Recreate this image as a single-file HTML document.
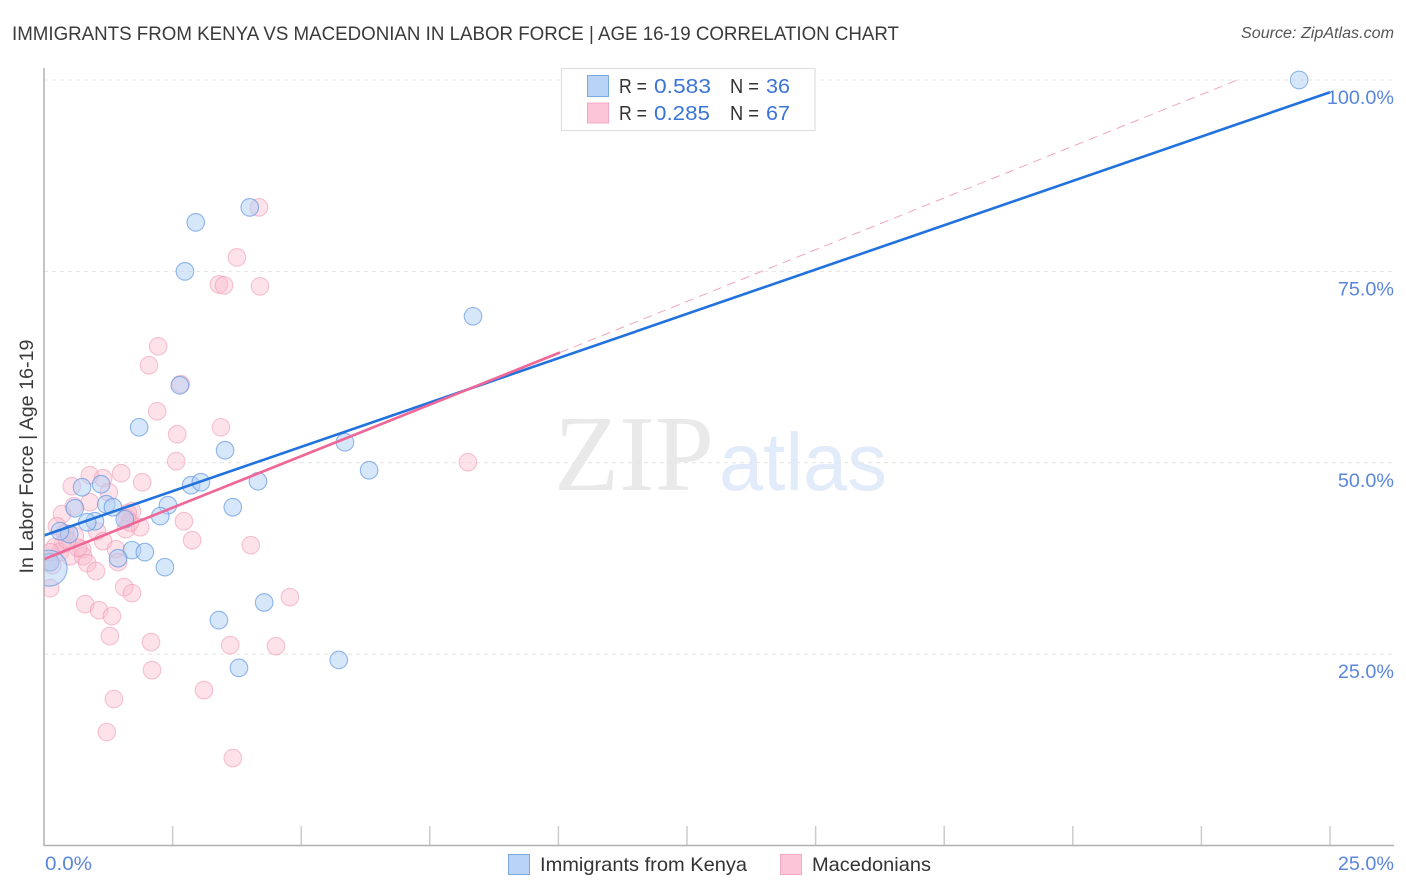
<!DOCTYPE html>
<html lang="en">
<head>
<meta charset="utf-8">
<title>Immigrants from Kenya vs Macedonian in Labor Force | Age 16-19 Correlation Chart</title>
<style>
html,body{margin:0;padding:0;background:#fff;width:1406px;height:892px;overflow:hidden}
svg{display:block;font-family:"Liberation Sans",sans-serif}
</style>
</head>
<body>
<svg id="chart" width="1406" height="892" viewBox="0 0 1406 892" xmlns="http://www.w3.org/2000/svg">
  <defs>
    <clipPath id="plot-clip"><rect x="44" y="60" width="1350" height="786"/></clipPath>
  </defs>
  <text x="12" y="40" font-size="19.5" fill="#3a3a3a" textLength="887" lengthAdjust="spacingAndGlyphs">IMMIGRANTS FROM KENYA VS MACEDONIAN IN LABOR FORCE | AGE 16-19 CORRELATION CHART</text>
  <text x="1394" y="38" font-size="15.5" font-style="italic" fill="#555" text-anchor="end" textLength="153" lengthAdjust="spacingAndGlyphs">Source: ZipAtlas.com</text>

  <g>
    <text x="554" y="490" font-family="'Liberation Serif',serif" font-size="108" fill="#e9e9e9" textLength="160" lengthAdjust="spacingAndGlyphs">ZIP</text>
    <text x="719" y="490" font-size="82" fill="#e2ebf9" textLength="168" lengthAdjust="spacingAndGlyphs">atlas</text>
  </g>

  <g id="grid"></g>
  <g id="xticks"></g>
  <g id="pink-points" clip-path="url(#plot-clip)"></g>
  <g id="blue-points" clip-path="url(#plot-clip)"></g>
  <g id="trends"></g>

  <line x1="44" y1="68" x2="44" y2="846" stroke="#b0b0b0" stroke-width="1.5"/>
  <line x1="44" y1="845.5" x2="1394" y2="845.5" stroke="#b0b0b0" stroke-width="1.5"/>

  <g id="ylabels"></g>
  <g id="xlabels"></g>

  <text transform="translate(33,456.5) rotate(-90)" font-size="19.5" fill="#3a3a3a" text-anchor="middle" textLength="234" lengthAdjust="spacingAndGlyphs">In Labor Force | Age 16-19</text>

  <g>
    <rect x="561.5" y="68.5" width="253.5" height="62" fill="#fff" stroke="#e0e0e0" stroke-width="1.2"/>
    <rect x="587.5" y="75.5" width="21" height="21" fill="#b8d3f6" stroke="#7ba8df" stroke-width="1"/>
    <rect x="587.5" y="103" width="21" height="20" fill="#fcc6d8" stroke="#f4a9c1" stroke-width="1"/>
    <text x="619" y="93" font-size="20" fill="#333" textLength="28" lengthAdjust="spacingAndGlyphs">R =</text>
    <text x="654" y="93" font-size="20.5" fill="#3a75d6" textLength="57" lengthAdjust="spacingAndGlyphs">0.583</text>
    <text x="730" y="93" font-size="20" fill="#333" textLength="29" lengthAdjust="spacingAndGlyphs">N =</text>
    <text x="766" y="93" font-size="20.5" fill="#3a75d6" textLength="24" lengthAdjust="spacingAndGlyphs">36</text>
    <text x="619" y="120" font-size="20" fill="#333" textLength="28" lengthAdjust="spacingAndGlyphs">R =</text>
    <text x="654" y="120" font-size="20.5" fill="#3a75d6" textLength="56" lengthAdjust="spacingAndGlyphs">0.285</text>
    <text x="730" y="120" font-size="20" fill="#333" textLength="29" lengthAdjust="spacingAndGlyphs">N =</text>
    <text x="766" y="120" font-size="20.5" fill="#3a75d6" textLength="24" lengthAdjust="spacingAndGlyphs">67</text>
  </g>

  <g>
    <rect x="508.5" y="854.5" width="21" height="20" fill="#b8d3f6" stroke="#7ba8df" stroke-width="1"/>
    <text x="540" y="871" font-size="19.5" fill="#333" textLength="207" lengthAdjust="spacingAndGlyphs">Immigrants from Kenya</text>
    <rect x="780.5" y="854.5" width="21" height="20" fill="#fcc6d8" stroke="#f4a9c1" stroke-width="1"/>
    <text x="812" y="871" font-size="19.5" fill="#333" textLength="119" lengthAdjust="spacingAndGlyphs">Macedonians</text>
  </g>
</svg>
<script>
const yGridValues = [100, 75, 50, 25];
const yTickLabels = ['100.0%', '75.0%', '50.0%', '25.0%'];
const xTickValues = [2.5, 5, 7.5, 10, 12.5, 15, 17.5, 20, 22.5, 25];
const xEndLabels = ['0.0%', '25.0%'];

const kenyaX = [24.40,4.00,2.95,2.74,8.34,2.64,1.85,3.52,5.85,6.32,2.86,3.05,4.16,0.74,1.11,1.21,1.34,0.60,2.41,3.67,2.26,1.57,0.99,0.84,0.49,0.31,1.71,1.96,1.44,2.35,0.12,0.10,4.28,3.40,5.73,3.79];
const kenyaY = [100,83.36,81.40,75.0,69.13,60.12,54.63,51.63,52.68,49.02,47.06,47.45,47.58,46.80,47.19,44.58,44.19,44.06,44.45,44.19,43.02,42.62,42.36,42.23,40.67,41.06,38.58,38.32,37.53,36.36,37.01,36.23,31.75,29.44,24.24,23.20];
const kenyaBigIndex = 31;

const macedonianX = [4.18,3.75,3.40,3.50,4.20,2.22,2.04,2.66,2.20,3.44,2.59,2.57,8.24,1.50,0.89,1.15,1.91,0.54,1.26,0.89,0.58,0.35,1.71,1.63,1.61,2.72,0.25,1.87,1.59,1.03,0.60,0.41,2.88,4.02,1.15,0.37,0.74,1.40,0.21,0.31,0.51,0.76,0.84,1.44,1.01,0.08,0.16,0.12,1.56,1.71,0.12,0.80,1.07,1.32,4.78,1.28,2.08,3.62,4.51,2.10,3.11,1.36,1.22,3.67,0.66,0.45,1.67];
const macedonianY = [83.36,76.83,73.30,73.17,73.04,65.21,62.73,60.25,56.72,54.63,53.72,50.20,50.07,48.63,48.37,47.98,47.45,46.93,46.15,44.84,44.32,43.28,43.67,43.41,42.75,42.36,41.71,41.58,41.32,41.06,40.40,40.80,39.88,39.23,39.75,39.36,38.71,38.71,38.97,38.32,37.79,37.79,36.88,37.01,35.84,37.01,36.62,38.32,33.75,32.96,33.62,31.53,30.74,29.96,32.44,27.35,26.57,26.17,26.04,22.91,20.30,19.13,14.82,11.42,38.9,39.9,42.2];

const kenyaTrendX = [0, 25];
const kenyaTrendY = [40.5, 98.4];
const macedonianTrendX = [0, 10.03];
const macedonianTrendY = [37.4, 64.4];
const macedonianDashX = [10.03, 23.2];
const macedonianDashY = [64.4, 100];

const NS = 'http://www.w3.org/2000/svg';
function xScale(v){ return 44 + v * 51.44; }
function yScale(v){ return 845.5 - v * 7.655; }
function make(tag, attrs, parent){
  const el = document.createElementNS(NS, tag);
  for (const k in attrs) el.setAttribute(k, attrs[k]);
  parent.appendChild(el);
  return el;
}

const grid = document.getElementById('grid');
const ylabels = document.getElementById('ylabels');
yGridValues.forEach(function(v, i){
  const g = make('line', {x1:44, x2:1394, y1:yScale(v), y2:yScale(v), stroke:'#e4e4e4', 'stroke-width':1, 'stroke-dasharray':'4 4'}, grid);
  
  
  const t = make('text', {x:1394, y:yScale(v)+24, 'font-size':19.8, fill:'#5a86da', 'text-anchor':'end'}, ylabels);
  t.textContent = yTickLabels[i];
  
  
});

const xticks = document.getElementById('xticks');
xTickValues.forEach(function(v){
  const tk = make('line', {x1:xScale(v), x2:xScale(v), y1:826, y2:845, stroke:'#cccccc', 'stroke-width':1.5}, xticks);
  
  
});

const xlabels = document.getElementById('xlabels');
const xl0 = make('text', {x:45, y:870, 'font-size':19.8, fill:'#5a86da', textLength:47, lengthAdjust:'spacingAndGlyphs'}, xlabels);
xl0.textContent = xEndLabels[0];


const xl1 = make('text', {x:1394, y:870, 'font-size':19.8, fill:'#5a86da', 'text-anchor':'end'}, xlabels);
xl1.textContent = xEndLabels[1];



const pinkG = document.getElementById('pink-points');
macedonianX.forEach(function(v, i){
  const c = make('circle', {cx:xScale(v), cy:yScale(macedonianY[i]), r:8.8, fill:'rgba(250,185,205,0.42)', stroke:'rgba(238,150,178,0.55)', 'stroke-width':1.1}, pinkG);
  
  
});

const blueG = document.getElementById('blue-points');
kenyaX.forEach(function(v, i){
  const c = make('circle', {cx:xScale(v), cy:yScale(kenyaY[i]), r:(i === kenyaBigIndex ? 18 : 8.8), fill:'rgba(176,207,245,0.5)', stroke:'rgba(90,145,222,0.65)', 'stroke-width':1.1}, blueG);
  
  
});

const trends = document.getElementById('trends');
const dash = make('line', {x1:xScale(macedonianDashX[0]), y1:yScale(macedonianDashY[0]), x2:xScale(macedonianDashX[1]), y2:yScale(macedonianDashY[1]), stroke:'#f0a5bd', 'stroke-width':1, 'stroke-dasharray':'9 6'}, trends);


const blueLine = make('line', {x1:xScale(kenyaTrendX[0]), y1:yScale(kenyaTrendY[0]), x2:xScale(kenyaTrendX[1]), y2:yScale(kenyaTrendY[1]), stroke:'#2272de', 'stroke-width':2.6}, trends);


const pinkLine = make('line', {x1:xScale(macedonianTrendX[0]), y1:yScale(macedonianTrendY[0]), x2:xScale(macedonianTrendX[1]), y2:yScale(macedonianTrendY[1]), stroke:'#ee6797', 'stroke-width':2.6}, trends);


</script>
</body>
</html>
